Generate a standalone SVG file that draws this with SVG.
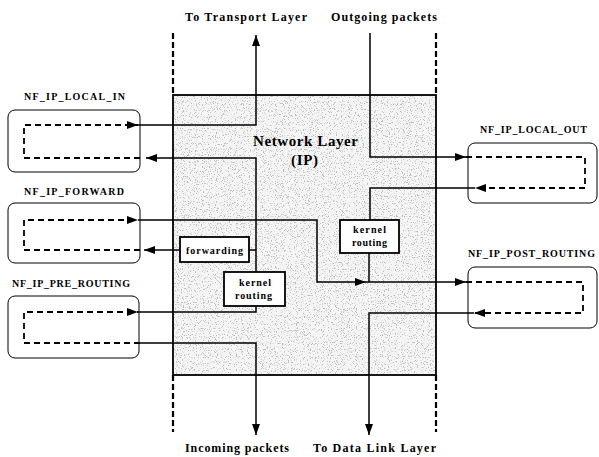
<svg xmlns="http://www.w3.org/2000/svg" width="599" height="457" viewBox="0 0 599 457">
<style>
.t{font-family:"Liberation Serif","Times New Roman",serif;font-weight:bold;fill:#000}
.lbl{font-size:12px}
.hk{font-size:10px}
.nl{font-size:15px}
.bx{font-size:10px}
.hook{fill:none;stroke:#000;stroke-width:1}
.inner{fill:#fff;stroke:#000;stroke-width:1.8}
.ln{fill:none;stroke:#000;stroke-width:1.5}
.dash{fill:none;stroke:#000;stroke-width:1.8;stroke-dasharray:6 4}
.vdash{fill:none;stroke:#000;stroke-width:2.2;stroke-dasharray:6 3}
</style>
<defs>
<marker id="ah" viewBox="0 0 11 8" refX="11" refY="4" markerWidth="11" markerHeight="8" markerUnits="userSpaceOnUse" orient="auto">
<path d="M0,0 L11,4 L0,8 z" fill="#000"/>
</marker>
<filter id="stip" x="0" y="0" width="100%" height="100%">
<feTurbulence type="fractalNoise" baseFrequency="0.85" numOctaves="2" seed="7" result="n"/>
<feColorMatrix in="n" type="matrix" values="0 0 0 0 0.45  0 0 0 0 0.45  0 0 0 0 0.45  7 0 0 0 -3.95"/>
</filter>
</defs>
<rect width="599" height="457" fill="#fff"/>

<g id="network-layer">
<rect x="173" y="95" width="263" height="280" fill="#f5f5f5"/>
<rect x="173" y="95" width="263" height="280" fill="#fff" filter="url(#stip)" opacity="0.85"/>
<rect x="173" y="95" width="263" height="280" fill="none" stroke="#000" stroke-width="1.8"/>
<text class="t nl" x="253" y="146" textLength="105">Network Layer</text>
<text class="t nl" x="291" y="165" textLength="27">(IP)</text>
</g>

<g id="boundaries">
<path class="vdash" d="M173,33 V95 M173,375 V432 M436,33 V95 M436,375 V432"/>
</g>

<g id="hook-local-in">
<rect class="hook" x="8" y="110" width="132" height="62" rx="7"/>
<text class="t hk" x="24" y="100" textLength="101">NF_IP_LOCAL_IN</text>
</g>
<g id="hook-forward">
<rect class="hook" x="8" y="203" width="132" height="60" rx="7"/>
<text class="t hk" x="24" y="195" textLength="100">NF_IP_FORWARD</text>
</g>
<g id="hook-pre-routing">
<rect class="hook" x="8" y="296" width="131" height="62" rx="7"/>
<text class="t hk" x="12" y="287" textLength="118">NF_IP_PRE_ROUTING</text>
</g>
<g id="hook-local-out">
<rect class="hook" x="468" y="143" width="129" height="60" rx="7"/>
<text class="t hk" x="480" y="133" textLength="107">NF_IP_LOCAL_OUT</text>
</g>
<g id="hook-post-routing">
<rect class="hook" x="468" y="267" width="129" height="61" rx="7"/>
<text class="t hk" x="468" y="257" textLength="127">NF_IP_POST_ROUTING</text>
</g>

<g id="connectors">
<path class="dash" d="M140,158 H24 V125 H138" marker-end="url(#ah)"/>
<path class="dash" d="M140,250 H24 V220 H138" marker-end="url(#ah)"/>
<path class="dash" d="M140,343 H24 V312 H138" marker-end="url(#ah)"/>
<path class="dash" d="M466,157 H585 V188 H475" marker-end="url(#ah)"/>
<path class="dash" d="M466,282 H583 V313 H474" marker-end="url(#ah)"/>
<path class="ln" d="M138,125 H256 V35" marker-end="url(#ah)"/>
<path class="ln" d="M256,272 V158 H146" marker-end="url(#ah)"/>
<path class="ln" d="M138,220 H317 V282 H366" marker-end="url(#ah)"/>
<path class="ln" d="M366,282 H466" marker-end="url(#ah)"/>
<path class="ln" d="M256,250 H249"/>
<path class="ln" d="M180,250 H144" marker-end="url(#ah)"/>
<path class="ln" d="M138,312 H256 V306"/>
<path class="ln" d="M140,343 H256 V435" marker-end="url(#ah)"/>
<path class="ln" d="M370,33 V157 H466" marker-end="url(#ah)"/>
<path class="ln" d="M475,188 H370 V220"/>
<path class="ln" d="M369,253 V282"/>
<path class="ln" d="M474,313 H369 V435" marker-end="url(#ah)"/>
</g>

<g id="forwarding">
<rect class="inner" x="180" y="237" width="69" height="25"/>
<text class="t bx" x="186" y="254" textLength="57">forwarding</text>
</g>
<g id="kernel-routing-out">
<rect class="inner" x="340" y="220" width="59" height="33"/>
<text class="t bx" x="353" y="233" textLength="33">kernel</text>
<text class="t bx" x="352" y="246" textLength="35">routing</text>
</g>
<g id="kernel-routing-in">
<rect class="inner" x="224" y="272" width="61" height="34"/>
<text class="t bx" x="239" y="286" textLength="32">kernel</text>
<text class="t bx" x="235" y="299" textLength="37">routing</text>
</g>

<g id="labels">
<text class="t lbl" x="185" y="21" textLength="122">To Transport Layer</text>
<text class="t lbl" x="331" y="21" textLength="106">Outgoing packets</text>
<text class="t lbl" x="185" y="452" textLength="104">Incoming packets</text>
<text class="t lbl" x="313" y="452" textLength="123">To Data Link Layer</text>
</g>
</svg>
